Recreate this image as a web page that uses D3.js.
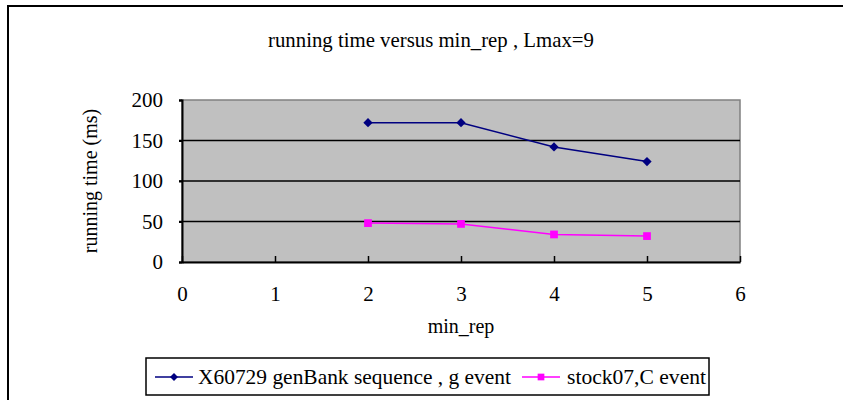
<!DOCTYPE html>
<html>
<head><script src="https://cdn.jsdelivr.net/npm/d3@7"></script></head>
<body style="margin:0">
<script>
    // data
    const minRep = [2, 3, 4, 5];
    const genBank = [172, 172, 142, 124]; // X60729 genBank sequence , g event
    const stock = [48, 47, 34, 32]; // stock07,C event
    const xTicks = [0, 1, 2, 3, 4, 5, 6];
    const yTicks = [0, 50, 100, 150, 200];
    const seriesNames = ['X60729 genBank sequence , g event', 'stock07,C event'];

    const width = 843;
    const height = 400;
    const font = '"Liberation Serif"';

    const svg = d3.select('body').append('svg').attr('width', width).attr('height', height);

    // outer frame (runs off the right and bottom edge)
    svg.append('rect')
        .attr('x', 8).attr('y', 6)
        .attr('width', 860).attr('height', 420)
        .attr('fill', '#fff').attr('stroke', '#000').attr('stroke-width', 2);

    svg.append('text')
        .attr('x', 431).attr('y', 47)
        .attr('text-anchor', 'middle')
        .style('font-family', font)
        .attr('font-size', 21)
        .attr('textLength', 326)
        .attr('lengthAdjust', 'spacingAndGlyphs')
        .text('running time versus min_rep , Lmax=9');

    const x = d3.scaleLinear().domain([0, 6]).range([182, 740]);
    const y = d3.scaleLinear().domain([0, 200]).range([262, 100]);

    // plot area
    svg.append('rect')
        .attr('x', x(0)).attr('y', y(200))
        .attr('width', x(6) - x(0)).attr('height', y(0) - y(200))
        .attr('fill', '#c0c0c0').attr('stroke', '#808080').attr('stroke-width', 1.5);

    // gridlines
    svg.append('g')
        .selectAll('line')
        .data(yTicks.filter(d => d > 0 && d < 200))
        .join('line')
        .attr('x1', x(0) - 3).attr('x2', x(6))
        .attr('y1', d => y(d)).attr('y2', d => y(d))
        .attr('stroke', '#000').attr('stroke-width', 1.5);

    // y axis
    const yAxis = svg.append('g')
        .attr('transform', `translate(${x(0)},0)`)
        .call(d3.axisLeft(y).tickValues(yTicks).tickFormat(d3.format('d')).tickSize(3).tickPadding(16));
    yAxis.select('.domain').attr('stroke', '#000').attr('stroke-width', 2);
    yAxis.selectAll('.tick line').attr('stroke-width', 2);
    yAxis.selectAll('text').style('font-family', font).attr('font-size', 21).attr('fill', '#000');

    // x axis, ticks pointing inside
    const xAxis = svg.append('g')
        .attr('transform', `translate(0,${y(0)})`)
        .call(d3.axisBottom(x).tickValues(xTicks).tickFormat(d3.format('d')).tickSizeInner(-6).tickSizeOuter(0).tickPadding(24));
    xAxis.select('.domain').attr('stroke', '#000').attr('stroke-width', 2);
    xAxis.selectAll('.tick line').attr('stroke-width', 1.5);
    xAxis.selectAll('text').style('font-family', font).attr('font-size', 21).attr('fill', '#000');

    svg.append('text')
        .attr('x', x(3)).attr('y', 333)
        .attr('text-anchor', 'middle')
        .style('font-family', font)
        .attr('font-size', 20)
        .text('min_rep');

    svg.append('text')
        .attr('transform', 'translate(97,181) rotate(-90)')
        .attr('text-anchor', 'middle')
        .style('font-family', font)
        .attr('font-size', 20)
        .text('running time (ms)');

    const line = d3.line().x((d, i) => x(minRep[i])).y(d => y(d));
    const diamond = d3.symbol().type(d3.symbolDiamond2).size(55);
    const square = d3.symbol().type(d3.symbolSquare).size(60);

    // series lines + markers
    svg.append('path').datum(genBank)
        .attr('d', line).attr('fill', 'none')
        .attr('stroke', '#000080').attr('stroke-width', 1.5);
    svg.append('g').selectAll('path').data(genBank).join('path')
        .attr('d', diamond)
        .attr('transform', (d, i) => `translate(${x(minRep[i])},${y(d)})`)
        .attr('fill', '#000080');

    svg.append('path').datum(stock)
        .attr('d', line).attr('fill', 'none')
        .attr('stroke', '#ff00ff').attr('stroke-width', 1.5);
    svg.append('g').selectAll('path').data(stock).join('path')
        .attr('d', square)
        .attr('transform', (d, i) => `translate(${x(minRep[i])},${y(d)})`)
        .attr('fill', '#ff00ff');

    // legend
    const legend = svg.append('g');
    legend.append('rect')
        .attr('x', 146).attr('y', 358)
        .attr('width', 563).attr('height', 37)
        .attr('fill', '#fff').attr('stroke', '#000').attr('stroke-width', 1.5);

    const items = [
        { name: seriesNames[0], color: '#000080', sym: d3.symbol().type(d3.symbolDiamond2).size(40), x0: 155, tx: 198, tw: 313 },
        { name: seriesNames[1], color: '#ff00ff', sym: d3.symbol().type(d3.symbolSquare).size(45), x0: 522, tx: 567, tw: 139 },
    ];
    items.forEach(it => {
        legend.append('line')
            .attr('x1', it.x0).attr('x2', it.x0 + 38)
            .attr('y1', 377).attr('y2', 377)
            .attr('stroke', it.color).attr('stroke-width', 1.5);
        legend.append('path')
            .attr('d', it.sym())
            .attr('transform', `translate(${it.x0 + 19},377)`)
            .attr('fill', it.color);
        legend.append('text')
            .attr('x', it.tx).attr('y', 384)
            .style('font-family', font)
            .attr('font-size', 21)
            .attr('textLength', it.tw)
            .attr('lengthAdjust', 'spacingAndGlyphs')
            .text(it.name);
    });
</script>
</body>
</html>
